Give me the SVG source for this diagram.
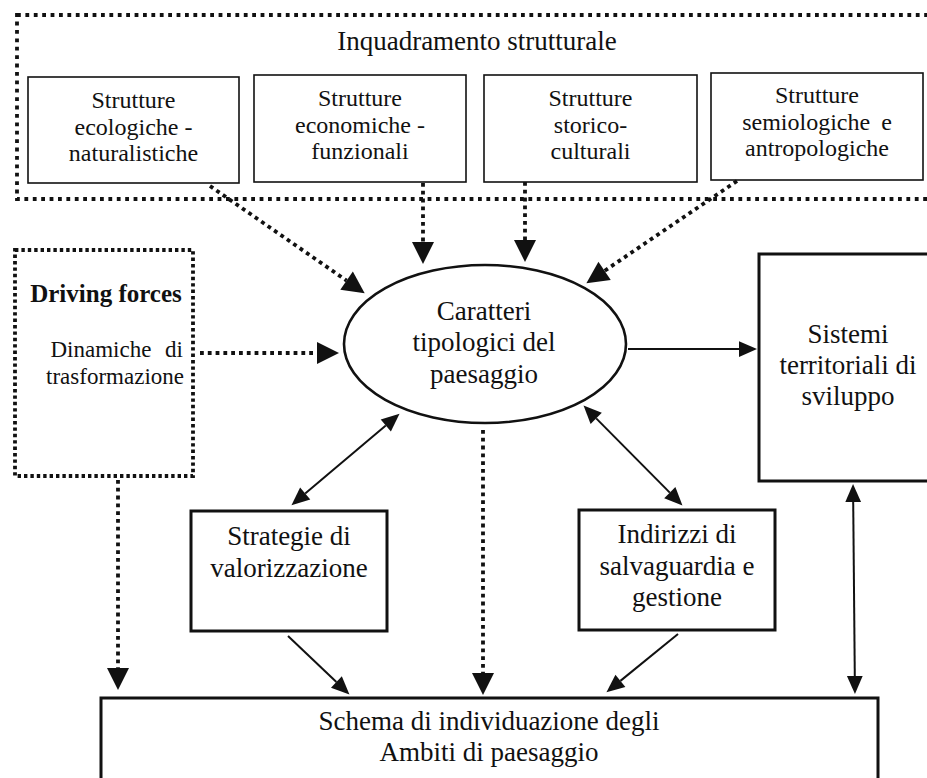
<svg xmlns="http://www.w3.org/2000/svg" width="927" height="778" viewBox="0 0 927 778">
<defs>
<style>
text{font-family:"Liberation Serif","Times New Roman",serif;fill:#111;text-anchor:middle}
.s24{font-size:24px}
.s23{font-size:23px}
.s27{font-size:27px}
.thin{fill:#fff;stroke:#111;stroke-width:1.6}
.thick{fill:#fff;stroke:#111;stroke-width:3}
.dotbox{fill:none;stroke:#111;stroke-width:3.8;stroke-dasharray:3.8 4.6}
.dotline{fill:none;stroke:#111;stroke-width:3.8;stroke-dasharray:3.8 4}
.solid{fill:none;stroke:#111;stroke-width:2}
</style>
<marker id="dh" markerUnits="userSpaceOnUse" markerWidth="22" markerHeight="22" refX="0" refY="10" orient="auto" viewBox="0 0 20 20" overflow="visible">
<path d="M0,0 L20,10 L0,20 z" fill="#111"/>
</marker>
<marker id="sh" markerUnits="userSpaceOnUse" markerWidth="18" markerHeight="16" refX="0" refY="7" orient="auto-start-reverse" viewBox="0 0 16 14" overflow="visible">
<path d="M0,0 L16,7 L0,14 z" fill="#111"/>
</marker>
</defs>
<rect width="927" height="778" fill="#fff"/>

<g id="inquadramento">
<rect class="dotbox" x="17" y="15" width="930" height="184"/>
<text class="s27" x="477" y="50">Inquadramento strutturale</text>
</g>

<g id="box-ecologiche">
<rect class="thin" x="28" y="77" width="211" height="106"/>
<text class="s24" x="133.5" y="108">Strutture</text>
<text class="s24" x="133.5" y="135">ecologiche -</text>
<text class="s24" x="133.5" y="161">naturalistiche</text>
</g>

<g id="box-economiche">
<rect class="thin" x="254" y="75" width="212" height="107"/>
<text class="s24" x="360" y="106">Strutture</text>
<text class="s24" x="360" y="133">economiche -</text>
<text class="s24" x="360" y="159">funzionali</text>
</g>

<g id="box-storico">
<rect class="thin" x="484" y="75" width="213" height="107"/>
<text class="s24" x="590.5" y="106">Strutture</text>
<text class="s24" x="590.5" y="133">storico-</text>
<text class="s24" x="590.5" y="159">culturali</text>
</g>

<g id="box-semiologiche">
<rect class="thin" x="711" y="73" width="212" height="107"/>
<text class="s24" x="817" y="103">Strutture</text>
<text class="s24" x="817" y="130" word-spacing="5">semiologiche e</text>
<text class="s24" x="817" y="156">antropologiche</text>
</g>

<g id="driving-forces">
<rect class="dotbox" x="15" y="250" width="178" height="226" style="stroke-dasharray:3.4 3"/>
<text x="106" y="302" style="font-size:25px;font-weight:bold">Driving forces</text>
<text class="s23" x="183" y="357" style="text-anchor:end" word-spacing="8">Dinamiche di</text>
<text class="s23" x="184" y="384" style="text-anchor:end">trasformazione</text>
</g>

<g id="caratteri">
<ellipse cx="485" cy="344" rx="141" ry="79" fill="#fff" stroke="#111" stroke-width="2.6"/>
<text class="s27" x="484" y="320">Caratteri</text>
<text class="s27" x="484" y="351">tipologici del</text>
<text class="s27" x="484" y="383">paesaggio</text>
</g>

<g id="sistemi">
<rect class="thick" x="759" y="254" width="190" height="227"/>
<text class="s27" x="848" y="343">Sistemi</text>
<text class="s27" x="848" y="374">territoriali di</text>
<text class="s27" x="848" y="405">sviluppo</text>
</g>

<g id="strategie">
<rect class="thick" x="191" y="511" width="196" height="120"/>
<text class="s27" x="289" y="545">Strategie di</text>
<text class="s27" x="289" y="577">valorizzazione</text>
</g>

<g id="indirizzi">
<rect class="thick" x="579" y="510" width="196" height="120"/>
<text class="s27" x="677" y="543">Indirizzi di</text>
<text class="s27" x="677" y="575">salvaguardia e</text>
<text class="s27" x="677" y="606">gestione</text>
</g>

<g id="schema">
<rect class="thick" x="101" y="698" width="777" height="110"/>
<text class="s27" x="489" y="730">Schema di individuazione degli</text>
<text class="s27" x="489" y="761">Ambiti di paesaggio</text>
</g>

<g id="connectors">
<line class="dotline" x1="210" y1="186" x2="346.6" y2="280.6" marker-end="url(#dh)"/>
<line class="dotline" x1="423" y1="183" x2="423" y2="242" marker-end="url(#dh)"/>
<line class="dotline" x1="525" y1="182" x2="525" y2="240" marker-end="url(#dh)"/>
<line class="dotline" x1="737" y1="181" x2="604.6" y2="270.8" marker-end="url(#dh)"/>
<line class="dotline" x1="200" y1="353" x2="317" y2="353" marker-end="url(#dh)"/>
<line class="dotline" x1="118" y1="480" x2="118" y2="668" marker-end="url(#dh)"/>
<line class="dotline" x1="483" y1="430" x2="483" y2="673" marker-end="url(#dh)"/>
<line class="solid" x1="628" y1="349" x2="739" y2="349" marker-end="url(#sh)"/>
<line class="solid" x1="385.8" y1="425.4" x2="305.2" y2="493.6" marker-start="url(#sh)" marker-end="url(#sh)"/>
<line class="solid" x1="596.2" y1="418.4" x2="669.8" y2="492.6" marker-start="url(#sh)" marker-end="url(#sh)"/>
<line class="solid" x1="288" y1="636" x2="336.4" y2="682" marker-end="url(#sh)"/>
<line class="solid" x1="678" y1="634" x2="620.4" y2="680.9" marker-end="url(#sh)"/>
<line class="solid" x1="853.2" y1="502" x2="854.8" y2="676" marker-start="url(#sh)" marker-end="url(#sh)"/>
</g>
</svg>
